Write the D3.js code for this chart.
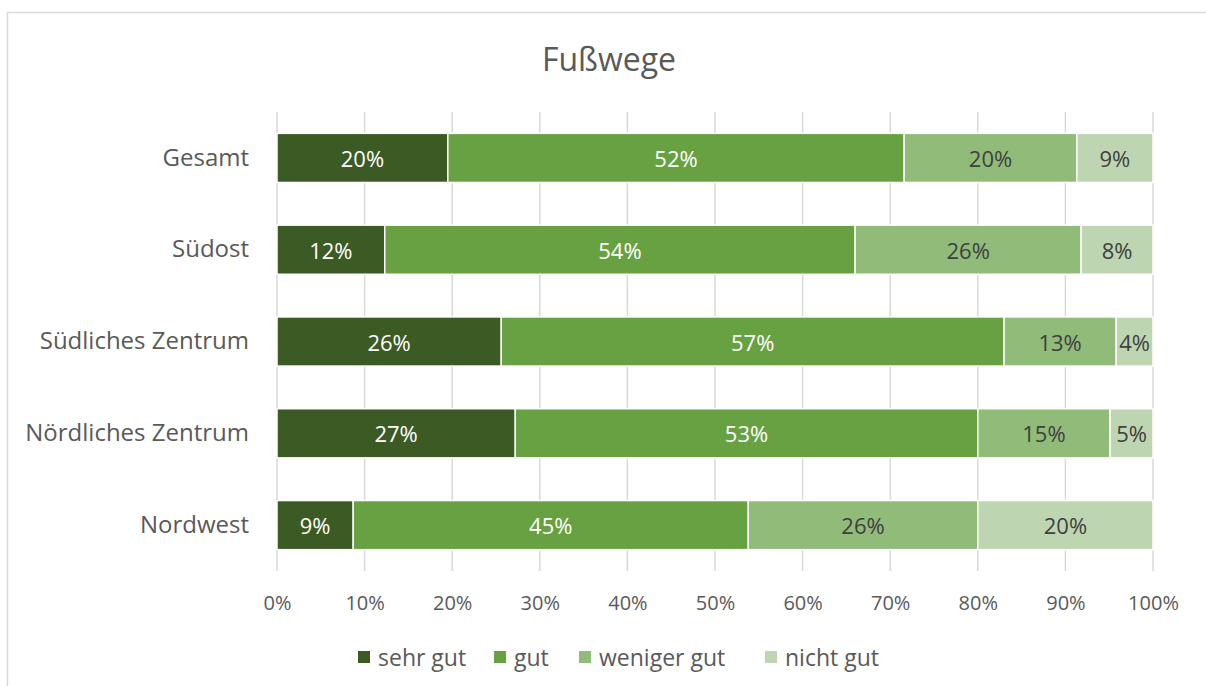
<!DOCTYPE html>
<html>
<head>
<meta charset="utf-8">
<script src="https://cdn.jsdelivr.net/npm/d3@7"></script>
<style>
  body { margin: 0; background: #fff; }
  svg text { font-family: "Open Sans", Lato, sans-serif; }
</style>
</head>
<body>
<div class="chart"></div>
<script>
/*
    Chart data
*/
const categories = ["Gesamt", "Südost", "Südliches Zentrum", "Nördliches Zentrum", "Nordwest"];
const series_names = ["sehr gut", "gut", "weniger gut", "nicht gut"];
const sehr_gut = [19.5, 12.3, 25.6, 27.2, 8.7];
const gut = [52.1, 53.7, 57.4, 52.8, 45.1];
const weniger_gut = [19.7, 25.8, 12.8, 15.1, 26.2];
const nicht_gut = [8.7, 8.2, 4.2, 4.9, 20.0];
const tick_values = [0, 0.1, 0.2, 0.3, 0.4, 0.5, 0.6, 0.7, 0.8, 0.9, 1];

const colors = ["#3b5a24", "#67a142", "#90bb79", "#bed5b1"];
const label_colors = ["#ffffff", "#ffffff", "#404040", "#404040"];

const width = 1206, height = 686;
const plot = { left: 277, right: 1153, top: 112, bottom: 571 };

// build rows for the stack, 100% normalised
const rows = categories.map((c, i) => ({
    cat: c,
    "sehr gut": sehr_gut[i],
    "gut": gut[i],
    "weniger gut": weniger_gut[i],
    "nicht gut": nicht_gut[i]
}));

const stacked = d3.stack()
    .keys(series_names)
    .offset(d3.stackOffsetExpand)(rows);

const svg = d3.select(".chart").append("svg")
    .attr("width", width)
    .attr("height", height);

// chart frame
svg.append("rect")
    .attr("x", 7.5).attr("y", 12.5)
    .attr("width", width + 20).attr("height", height + 20)
    .attr("fill", "none")
    .attr("stroke", "#d9d9d9")
    .attr("stroke-width", 1.5);

const x = d3.scaleLinear().domain([0, 1]).range([plot.left, plot.right]);
const y = d3.scaleBand().domain(categories).range([plot.top, plot.bottom])
    .paddingInner(0.465).paddingOuter(0.2325);

// title
svg.append("text")
    .attr("x", 609).attr("y", 58)
    .attr("text-anchor", "middle")
    .attr("dominant-baseline", "central")
    .attr("font-size", 32)
    .attr("fill", "#595959")
    .text("Fußwege");

// gridlines
svg.append("g")
    .selectAll("line")
    .data(tick_values)
    .join("line")
    .attr("x1", d => x(d)).attr("x2", d => x(d))
    .attr("y1", plot.top).attr("y2", plot.bottom)
    .attr("stroke", "#d9d9d9")
    .attr("stroke-width", 1.5);

// x axis
const xAxis = d3.axisBottom(x)
    .tickValues(tick_values)
    .tickFormat(d3.format(".0%"))
    .tickSize(0)
    .tickPadding(0);

const gx = svg.append("g")
    .attr("transform", `translate(0, ${plot.bottom})`)
    .call(xAxis);
gx.select(".domain").remove();
gx.selectAll("text")
    .attr("y", 32)
    .attr("dy", "0.35em")
    .attr("font-size", 20)
    .attr("font-family", "'Open Sans', Lato, sans-serif")
    .attr("fill", "#595959");

// y axis
const yAxis = d3.axisLeft(y).tickSize(0).tickPadding(28);
const gy = svg.append("g")
    .attr("transform", `translate(${plot.left}, 0)`)
    .call(yAxis);
gy.select(".domain").remove();
gy.selectAll("text")
    .attr("font-size", 24)
    .attr("font-family", "'Open Sans', Lato, sans-serif")
    .attr("fill", "#595959");

// bars
const layers = svg.append("g")
    .selectAll("g")
    .data(stacked)
    .join("g")
    .attr("fill", (d, i) => colors[i]);

layers.selectAll("rect")
    .data(d => d)
    .join("rect")
    .attr("x", d => x(d[0]))
    .attr("y", d => y(d.data.cat))
    .attr("width", d => x(d[1]) - x(d[0]))
    .attr("height", y.bandwidth())
    .attr("stroke", "#ffffff")
    .attr("stroke-width", 1.5);

// data labels
layers.each(function (layer, li) {
    d3.select(this).selectAll("text")
        .data(layer)
        .join("text")
        .attr("x", d => (x(d[0]) + x(d[1])) / 2)
        .attr("y", d => y(d.data.cat) + y.bandwidth() / 2)
        .attr("text-anchor", "middle")
        .attr("dominant-baseline", "central")
        .attr("font-size", 22)
        .attr("fill", label_colors[li])
        .text(d => Math.round(d.data[layer.key]) + "%");
});

// legend
const legend_x = [358, 494, 579, 765];
const legend = svg.append("g")
    .selectAll("g")
    .data(series_names)
    .join("g")
    .attr("transform", (d, i) => `translate(${legend_x[i]}, 657)`);

legend.append("rect")
    .attr("x", 0).attr("y", -6)
    .attr("width", 12).attr("height", 12)
    .attr("fill", (d, i) => colors[i]);

legend.append("text")
    .attr("x", 20).attr("y", 0)
    .attr("dominant-baseline", "central")
    .attr("font-size", 23)
    .attr("fill", "#595959")
    .text(d => d);
</script>
</body>
</html>
